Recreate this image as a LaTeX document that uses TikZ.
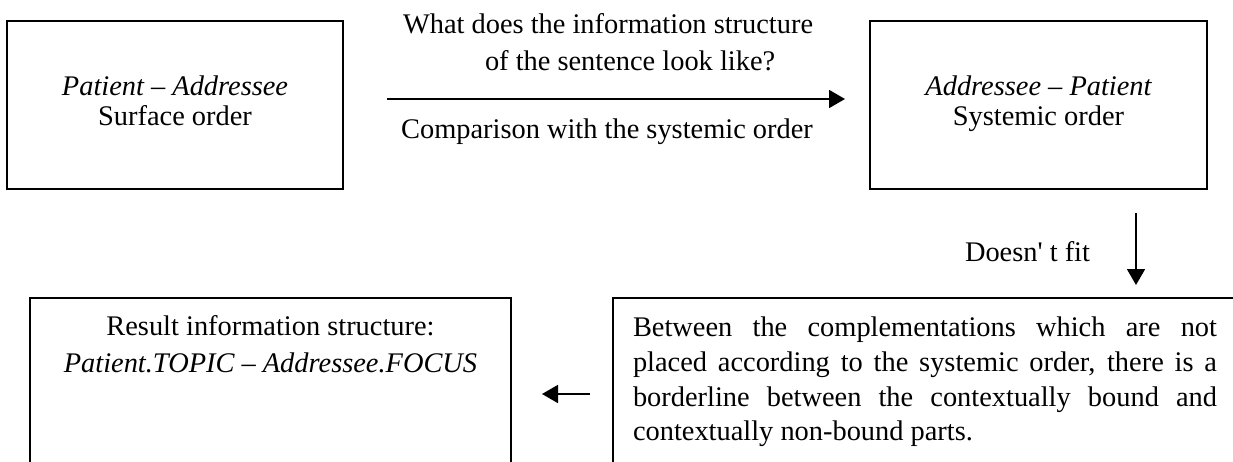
\documentclass[tikz,border=0pt]{standalone}
\usepackage{fontspec}
\setmainfont{Liberation Serif}
\usetikzlibrary{arrows.meta}
\begin{document}
\begin{tikzpicture}[x=1pt,y=-1pt,
  box/.style={draw=black,line width=1.8pt,rectangle,inner sep=0pt,outer sep=0pt,anchor=north west},
  txt/.style={inner sep=0pt,outer sep=0pt,font=\fontsize{28.4}{34}\selectfont},
  arr/.style={line width=1.8pt,-{Triangle[length=16pt,width=18pt]}}]
\useasboundingbox (0,0) rectangle (1233,461);
\fill[white] (0,0) rectangle (1233,461);
\clip (0,0) rectangle (1233,461);
% boxes
\node[box,minimum width=336pt,minimum height=168pt] (b1) at (7,21) {};
\node[box,minimum width=337pt,minimum height=168pt] (b2) at (870,21) {};
\node[box,minimum width=481pt,minimum height=200pt] (b3) at (30,298) {};
\node[box,minimum width=650pt,minimum height=200pt] (b4) at (613,298) {};
% box texts
\node[txt,anchor=base] (t1a) at (175,95) {\itshape Patient – Addressee};
\node[txt,anchor=base] (t1b) at (175,125) {Surface order};
\node[txt,anchor=base] (t2a) at (1038.5,95) {\itshape Addressee – Patient};
\node[txt,anchor=base] (t2b) at (1038.5,125) {Systemic order};
\node[txt,anchor=base] (t3a) at (270.5,335) {Result information structure:};
\node[txt,anchor=base] (t3b) at (270.5,372) {\itshape Patient.TOPIC – Addressee.FOCUS};
\node[txt,anchor=base west] (t4a) at (633,336) {\makebox[584pt][s]{Between the complementations which are not}};
\node[txt,anchor=base west] (t4b) at (633,371) {\makebox[584pt][s]{placed according to the systemic order, there is a}};
\node[txt,anchor=base west] (t4c) at (633,406) {\makebox[584pt][s]{borderline between the contextually bound and}};
\node[txt,anchor=base west] (t4d) at (633,440) {contextually non-bound parts.};
% labels
\node[txt,anchor=base west] (l1) at (403,33) {What does the information structure};
\node[txt,anchor=base west] (l2) at (485,70) {of the sentence look like?};
\node[txt,anchor=base] (l3) at (607,138) {Comparison with the systemic order};
\node[txt,anchor=base west] (l4) at (965,261) {Doesn\textquotesingle\ t fit};
% connectors
\draw[arr,shorten <=44pt,shorten >=25pt] ([yshift=6pt]b1.east) -- ([yshift=6pt]b2.west);
\draw[arr,shorten <=24pt,shorten >=13pt] ([xshift=97.5pt]b2.south) -- ([xshift=97.5pt]b2.south |- b4.north);
\draw[arr,shorten <=23pt,shorten >=31pt] ([yshift=-96pt]b4.north west) -- ([yshift=-96pt]b3.north east);
\end{tikzpicture}
\end{document}
